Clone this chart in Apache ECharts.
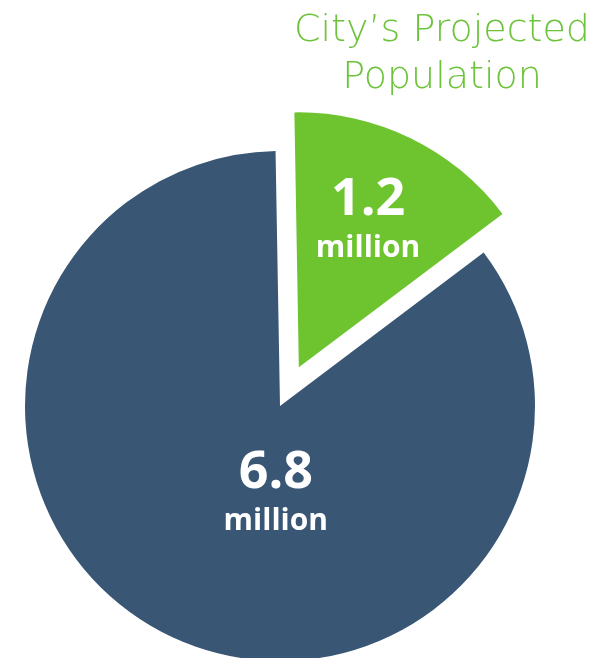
<!DOCTYPE html>
<html>
<head>
<meta charset="utf-8">
<script src="https://cdn.jsdelivr.net/npm/echarts@6/dist/echarts.min.js"></script>
<style>
  html, body { margin: 0; padding: 0; background: #fff; }
  #chart { width: 610px; height: 658px; }
</style>
</head>
<body>
<div id="chart"></div>
<script>
// data
const names = ['City\u2019s Projected Population', 'Rest'];
const values = [1.2, 6.8];
const units = ['million', 'million'];
const colors = ['#6dc42f', '#3a5675'];

const chart = echarts.init(document.getElementById('chart'));

chart.setOption({
    backgroundColor: '#ffffff',
    animation: false,
    title: {
        text: 'City\u2019s Projected\nPopulation',
        left: 437,
        top: 3,
        textAlign: 'center',
        textStyle: {
            color: '#6dc43c',
            fontFamily: 'DejaVu Sans',
            fontWeight: 200,
            fontSize: 38,
            lineHeight: 47
        }
    },
    series: [
        {
            type: 'pie',
            center: [280, 406],
            radius: 255,
            startAngle: 91,
            clockwise: true,
            silent: true,
            selectedMode: 'single',
            selectedOffset: 43,
            label: {
                show: true,
                position: 'inside',
                color: '#fff',
                fontFamily: 'Open Sans',
                formatter: function (p) {
                    return '{v|' + p.value.toFixed(1) + '}\n{u|' + units[p.dataIndex] + '}';
                },
                rich: {
                    v: { fontSize: 52, fontWeight: 700, fontFamily: 'Open Sans', color: '#fff', lineHeight: 56 },
                    u: { fontSize: 30, fontWeight: 700, fontFamily: 'Open Sans', color: '#fff', lineHeight: 40 }
                }
            },
            labelLine: { show: false },
            labelLayout: function (p) {
                return p.dataIndex === 0 ? { dx: 12, dy: -30 } : { dx: 53, dy: -30 };
            },
            data: values.map(function (v, i) {
                return {
                    name: names[i],
                    value: v,
                    selected: i === 0,
                    itemStyle: { color: colors[i] }
                };
            })
        }
    ]
});
</script>
</body>
</html>
